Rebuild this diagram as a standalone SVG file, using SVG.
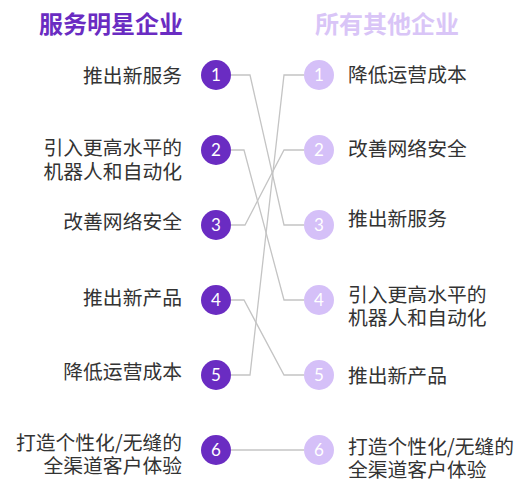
<svg xmlns="http://www.w3.org/2000/svg" width="523" height="482" viewBox="0 0 523 482">
<style>
.t{font-family:"Noto Sans CJK SC","Noto Sans",sans-serif;font-size:19.8px;fill:#333}
.l{text-anchor:end}
.h{font-family:"Noto Sans CJK SC",sans-serif;font-size:24px;font-weight:bold}
.n{font-family:Lato,"Noto Sans",sans-serif;font-size:17px;fill:#fff;text-anchor:middle}
.cl{fill:#6a2cc2}
.cr{fill:#d5c0f8}
.c path{fill:none;stroke:#c4c4c4;stroke-width:1.3}
</style>
<rect width="523" height="482" fill="#fff"/>
<text class="h" x="111" y="33" text-anchor="middle" fill="#6a2cc2">服务明星企业</text>
<text class="h" x="387" y="33" text-anchor="middle" fill="#d9c5f7">所有其他企业</text>
<g class="c" id="connectors">
<path d="M231,75 H250 L284,225 H304"/>
<path d="M231,150 H244 L284,300 H304"/>
<path d="M231,225 H245 L284,150 H304"/>
<path d="M231,300 H244 L284,375 H304"/>
<path d="M231,375 H250 L284,75 H304"/>
<path d="M231,450 H304"/>
</g>
<g id="L1"><text class="t l" x="182" y="83">推出新服务</text><circle class="cl" cx="216" cy="75" r="15"/><text class="n" x="216" y="81">1</text></g>
<g id="L2"><text class="t l" x="182" y="155">引入更高水平的</text><text class="t l" x="182" y="179">机器人和自动化</text><circle class="cl" cx="216" cy="150" r="15"/><text class="n" x="216" y="156">2</text></g>
<g id="L3"><text class="t l" x="182" y="229">改善网络安全</text><circle class="cl" cx="216" cy="225" r="15"/><text class="n" x="216" y="231">3</text></g>
<g id="L4"><text class="t l" x="182" y="305">推出新产品</text><circle class="cl" cx="216" cy="300" r="15"/><text class="n" x="216" y="306">4</text></g>
<g id="L5"><text class="t l" x="182" y="379">降低运营成本</text><circle class="cl" cx="216" cy="375" r="15"/><text class="n" x="216" y="381">5</text></g>
<g id="L6"><text class="t l" x="182" y="450">打造个性化/无缝的</text><text class="t l" x="182" y="473">全渠道客户体验</text><circle class="cl" cx="216" cy="450" r="15"/><text class="n" x="216" y="456">6</text></g>
<g id="R1"><circle class="cr" cx="319" cy="75" r="15"/><text class="n" x="319" y="81">1</text><text class="t" x="348" y="82">降低运营成本</text></g>
<g id="R2"><circle class="cr" cx="319" cy="150" r="15"/><text class="n" x="319" y="156">2</text><text class="t" x="348" y="156">改善网络安全</text></g>
<g id="R3"><circle class="cr" cx="319" cy="225" r="15"/><text class="n" x="319" y="231">3</text><text class="t" x="348" y="226">推出新服务</text></g>
<g id="R4"><circle class="cr" cx="319" cy="300" r="15"/><text class="n" x="319" y="306">4</text><text class="t" x="348" y="302">引入更高水平的</text><text class="t" x="348" y="325">机器人和自动化</text></g>
<g id="R5"><circle class="cr" cx="319" cy="375" r="15"/><text class="n" x="319" y="381">5</text><text class="t" x="348" y="383">推出新产品</text></g>
<g id="R6"><circle class="cr" cx="319" cy="450" r="15"/><text class="n" x="319" y="456">6</text><text class="t" x="348" y="454">打造个性化/无缝的</text><text class="t" x="348" y="477">全渠道客户体验</text></g>
</svg>
